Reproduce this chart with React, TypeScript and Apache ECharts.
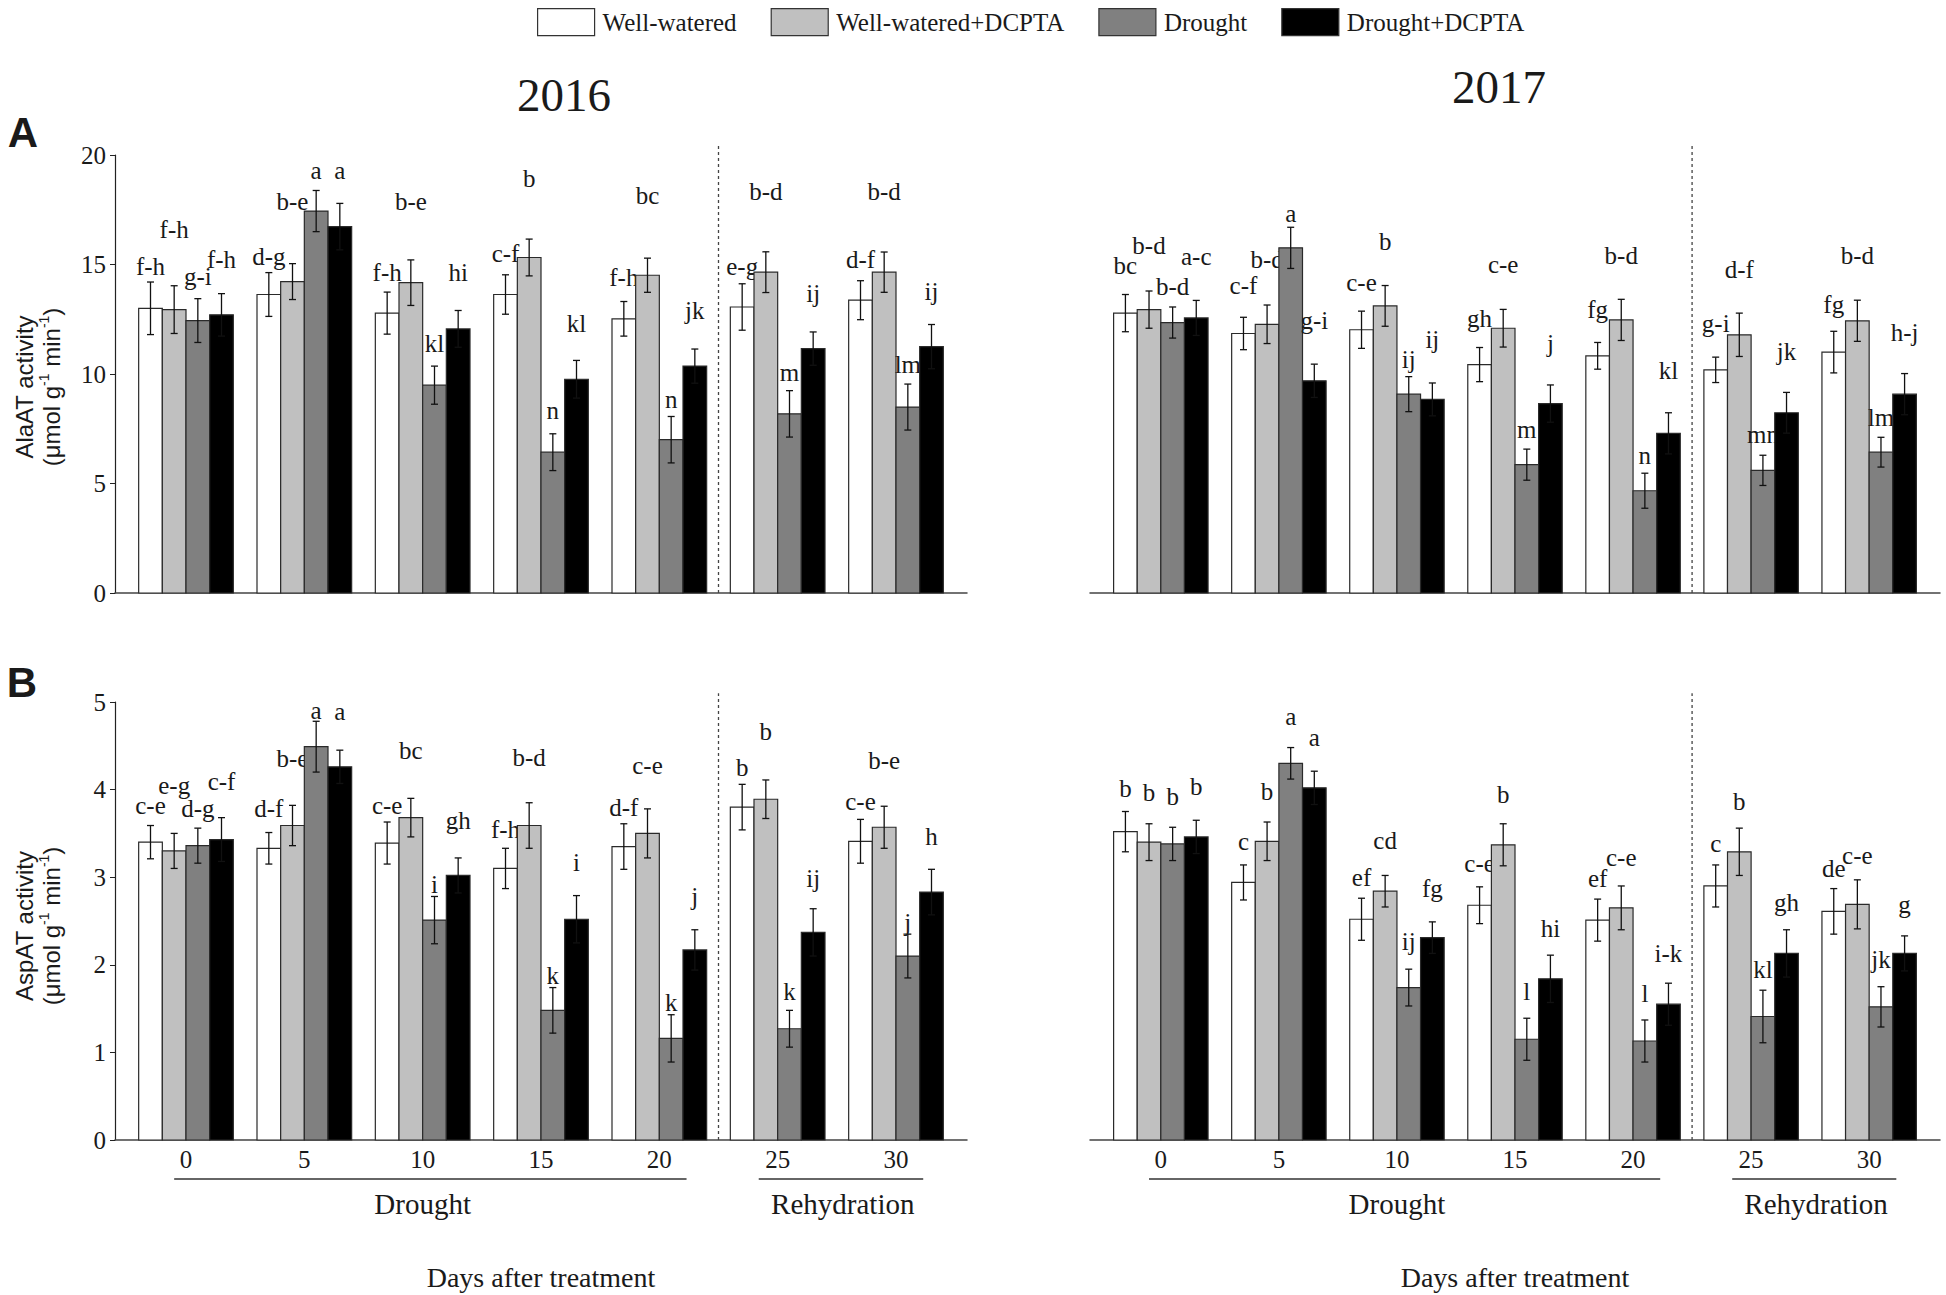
import React, { useEffect, useRef } from 'react';
import * as echarts from 'echarts';

// ---------- data ----------
const days = ['0', '5', '10', '15', '20', '25', '30'];
const dayIndex = [0, 1, 2, 3, 4, 5, 6];
const seriesNames = ['Well-watered', 'Well-watered+DCPTA', 'Drought', 'Drought+DCPTA'];

// AlaAT 2016 (rows: WW, WW+DCPTA, Drought, Drought+DCPTA)
const ala2016Mean = [
  [13.0, 13.63, 12.78, 13.63, 12.52, 13.06, 13.37],
  [12.94, 14.22, 14.17, 15.32, 14.51, 14.65, 14.65],
  [12.44, 17.44, 9.49, 6.43, 7.0, 8.18, 8.49],
  [12.7, 16.73, 12.06, 9.76, 10.36, 11.16, 11.25],
];
const ala2016Err = [
  [1.2, 1.0, 0.96, 0.9, 0.79, 1.06, 0.89],
  [1.09, 0.82, 1.04, 0.84, 0.78, 0.93, 0.92],
  [1.0, 0.94, 0.87, 0.84, 1.06, 1.06, 1.05],
  [0.97, 1.06, 0.84, 0.86, 0.78, 0.76, 1.01],
];
const ala2016Letters = [
  ['f-h', 'd-g', 'f-h', 'c-f', 'f-h', 'e-g', 'd-f'],
  ['f-h', 'b-e', 'b-e', 'b', 'bc', 'b-d', 'b-d'],
  ['g-i', 'a', 'kl', 'n', 'n', 'm', 'lm'],
  ['f-h', 'a', 'hi', 'kl', 'jk', 'ij', 'ij'],
];
const ala2016LetterY = [
  [14.9, 15.36, 14.63, 15.48, 14.4, 14.9, 15.24],
  [16.6, 17.87, 17.87, 18.94, 18.14, 18.33, 18.33],
  [14.45, 19.29, 11.38, 8.33, 8.85, 10.07, 10.42],
  [15.24, 19.29, 14.63, 12.32, 12.91, 13.69, 13.76],
];

// AlaAT 2017
const ala2017Mean = [
  [12.78, 11.85, 12.02, 10.43, 10.83, 10.19, 11.0],
  [12.94, 12.27, 13.11, 12.09, 12.47, 11.79, 12.43],
  [12.35, 15.76, 9.08, 5.86, 4.67, 5.6, 6.43],
  [12.56, 9.69, 8.84, 8.65, 7.29, 8.23, 9.08],
];
const ala2017Err = [
  [0.85, 0.74, 0.85, 0.78, 0.61, 0.58, 0.95],
  [0.85, 0.88, 0.93, 0.86, 0.94, 0.99, 0.94],
  [0.71, 0.94, 0.8, 0.71, 0.8, 0.69, 0.68],
  [0.8, 0.76, 0.75, 0.85, 0.94, 0.93, 0.94],
];
const ala2017Letters = [
  ['bc', 'c-f', 'c-e', 'gh', 'fg', 'g-i', 'fg'],
  ['b-d', 'b-d', 'b', 'c-e', 'b-d', 'd-f', 'b-d'],
  ['b-d', 'a', 'ij', 'm', 'n', 'mn', 'lm'],
  ['a-c', 'g-i', 'ij', 'j', 'kl', 'jk', 'h-j'],
];
const ala2017LetterY = [
  [14.94, 14.02, 14.17, 12.55, 12.93, 12.32, 13.16],
  [15.89, 15.21, 16.05, 14.98, 15.39, 14.75, 15.39],
  [13.99, 17.34, 10.65, 7.45, 6.27, 7.22, 8.03],
  [15.36, 12.44, 11.59, 11.41, 10.16, 11.03, 11.89],
];

// AspAT 2016
const asp2016Mean = [
  [3.4, 3.33, 3.39, 3.1, 3.35, 3.8, 3.41],
  [3.3, 3.59, 3.68, 3.59, 3.5, 3.89, 3.57],
  [3.36, 4.49, 2.51, 1.48, 1.16, 1.27, 2.1],
  [3.43, 4.26, 3.02, 2.52, 2.17, 2.37, 2.83],
];
const asp2016Err = [
  [0.19, 0.18, 0.24, 0.23, 0.26, 0.26, 0.25],
  [0.2, 0.23, 0.22, 0.26, 0.28, 0.22, 0.24],
  [0.2, 0.29, 0.27, 0.26, 0.27, 0.21, 0.25],
  [0.25, 0.19, 0.2, 0.27, 0.23, 0.27, 0.26],
];
const asp2016Letters = [
  ['c-e', 'd-f', 'c-e', 'f-h', 'd-f', 'b', 'c-e'],
  ['e-g', 'b-e', 'bc', 'b-d', 'c-e', 'b', 'b-e'],
  ['d-g', 'a', 'i', 'k', 'k', 'k', 'j'],
  ['c-f', 'a', 'gh', 'i', 'j', 'ij', 'h'],
];
const asp2016LetterY = [
  [3.82, 3.78, 3.82, 3.54, 3.8, 4.25, 3.86],
  [4.05, 4.35, 4.45, 4.37, 4.27, 4.66, 4.33],
  [3.78, 4.9, 2.92, 1.88, 1.57, 1.69, 2.48],
  [4.09, 4.89, 3.65, 3.17, 2.78, 2.98, 3.47],
];

// AspAT 2017
const asp2017Mean = [
  [3.52, 2.94, 2.52, 2.68, 2.51, 2.9, 2.61],
  [3.4, 3.41, 2.84, 3.37, 2.65, 3.29, 2.69],
  [3.38, 4.3, 1.74, 1.15, 1.13, 1.41, 1.52],
  [3.46, 4.02, 2.31, 1.84, 1.55, 2.13, 2.13],
];
const asp2017Err = [
  [0.23, 0.2, 0.24, 0.21, 0.24, 0.24, 0.26],
  [0.21, 0.22, 0.18, 0.24, 0.25, 0.27, 0.28],
  [0.19, 0.18, 0.21, 0.24, 0.24, 0.3, 0.23],
  [0.19, 0.19, 0.18, 0.27, 0.24, 0.27, 0.2],
];
const asp2017Letters = [
  ['b', 'c', 'ef', 'c-e', 'ef', 'c', 'de'],
  ['b', 'b', 'cd', 'b', 'c-e', 'b', 'c-e'],
  ['b', 'a', 'ij', 'l', 'l', 'kl', 'jk'],
  ['b', 'a', 'fg', 'hi', 'i-k', 'gh', 'g'],
];
const asp2017LetterY = [
  [4.01, 3.41, 3.0, 3.16, 2.98, 3.38, 3.1],
  [3.97, 3.98, 3.42, 3.94, 3.22, 3.86, 3.25],
  [3.92, 4.84, 2.27, 1.69, 1.67, 1.95, 2.06],
  [4.04, 4.59, 2.87, 2.41, 2.13, 2.71, 2.69],
];

const yearTitles = ['2016', '2017'];
const yMax = [20, 20, 5, 5];
const yInterval = [5, 5, 1, 1];
const dividerTop = [20.46, 20.46, 5.1, 5.1];

// ---------- style ----------
const SERIF = '"Liberation Serif", "Times New Roman", serif';
const SANS = '"Liberation Sans", Arial, sans-serif';
const COLORS = ['#ffffff', '#c0c0c0', '#808080', '#000000'];
const TXT = '#1a1a1a';

const panels = [
  { mean: ala2016Mean, err: ala2016Err, letters: ala2016Letters, ly: ala2016LetterY },
  { mean: ala2017Mean, err: ala2017Err, letters: ala2017Letters, ly: ala2017LetterY },
  { mean: asp2016Mean, err: asp2016Err, letters: asp2016Letters, ly: asp2016LetterY },
  { mean: asp2017Mean, err: asp2017Err, letters: asp2017Letters, ly: asp2017LetterY },
];

const grids = [
  { left: 115, top: 155, width: 852, height: 438 },
  { left: 1090, top: 155, width: 850, height: 438 },
  { left: 115, top: 702, width: 852, height: 438 },
  { left: 1090, top: 702, width: 850, height: 438 },
];

function makeSeries(p: number) {
  const P = panels[p];
  return seriesNames.map((name, k) => ({
    type: 'custom',
    name,
    xAxisIndex: p,
    yAxisIndex: p,
    clip: false,
    itemStyle: { color: COLORS[k], borderColor: '#333', borderWidth: 1 },
    data: dayIndex.map((d, i) => [d, P.mean[k][i], P.err[k][i]]),
    renderItem: (params: any, api: any) => {
      const i = params.dataIndex;
      const x = api.value(0);
      const v = api.value(1);
      const e = api.value(2);
      const unit = api.size([1, 0])[0];
      const groupW = unit * 0.8;
      const barW = groupW / 4;
      const p0 = api.coord([x, 0]);
      const p1 = api.coord([x, v]);
      const left = p0[0] - groupW / 2 + k * barW;
      const cx = left + barW / 2;
      const eTop = api.coord([x, v + e])[1];
      const eBot = api.coord([x, v - e])[1];
      const ly = api.coord([x, P.ly[k][i]])[1];
      const es = { stroke: '#111', lineWidth: 1.3 };
      return {
        type: 'group',
        children: [
          {
            type: 'rect',
            shape: { x: left, y: p1[1], width: barW, height: p0[1] - p1[1] },
            style: { fill: COLORS[k], stroke: '#2a2a2a', lineWidth: 1.2 },
          },
          { type: 'line', shape: { x1: cx, y1: eTop, x2: cx, y2: eBot }, style: es },
          { type: 'line', shape: { x1: cx - 3.5, y1: eTop, x2: cx + 3.5, y2: eTop }, style: es },
          { type: 'line', shape: { x1: cx - 3.5, y1: eBot, x2: cx + 3.5, y2: eBot }, style: es },
          {
            type: 'text',
            x: cx,
            y: ly,
            style: {
              text: P.letters[k][i],
              font: `25px ${SERIF}`,
              fill: TXT,
              align: 'center',
              verticalAlign: 'middle',
              textAlign: 'center',
              textVerticalAlign: 'middle',
            },
          },
        ],
      };
    },
  }));
}

export default function App() {
  const ref = useRef<HTMLDivElement>(null);
  useEffect(() => {
    if (!ref.current) return;
    const chart = echarts.init(ref.current, null, { renderer: 'svg' });
    const option: any = {
      animation: false,
      backgroundColor: '#ffffff',
      legend: {
        top: 3,
        left: 532,
        itemWidth: 57,
        itemHeight: 27,
        itemGap: 34,
        icon: 'rect',
        selectedMode: false,
        textStyle: { fontFamily: SERIF, fontSize: 25, color: TXT, padding: [0, 0, 0, 3] },
        data: seriesNames.map((n, k) => ({
          name: n,
          itemStyle: { color: COLORS[k], borderColor: '#333', borderWidth: 1.2 },
        })),
      },
      grid: grids,
      xAxis: grids.map((g, i) => ({
        type: 'value',
        gridIndex: i,
        min: -0.6,
        max: 6.6,
        axisLine: { show: true, onZero: false, lineStyle: { color: '#444', width: 1.5 } },
        axisTick: { show: false },
        splitLine: { show: false },
        axisLabel:
          i >= 2
            ? {
                show: true,
                customValues: dayIndex,
                formatter: (v: number) => days[Math.round(v)],
                fontFamily: SERIF,
                fontSize: 25,
                color: TXT,
                margin: 7,
              }
            : { show: false },
      })),
      yAxis: grids.map((g, i) => ({
        type: 'value',
        gridIndex: i,
        min: 0,
        max: yMax[i],
        interval: yInterval[i],
        show: i % 2 === 0,
        axisLine: { show: true, onZero: false, lineStyle: { color: '#222', width: 1.2 } },
        axisTick: { show: true, inside: false, length: 5, lineStyle: { color: '#222' } },
        splitLine: { show: false },
        axisLabel: { fontFamily: SERIF, fontSize: 25, color: TXT, margin: 9 },
      })),
      series: [0, 1, 2, 3].flatMap((p) => makeSeries(p)),
    };
    chart.setOption(option);

    const px = (i: number, x: number, y: number) =>
      chart.convertToPixel({ xAxisIndex: i, yAxisIndex: i } as any, [x, y]) as number[];

    const graphics: any[] = [];
    const txt = (x: number, y: number, text: string, font: string, extra: any = {}) => ({
      type: 'text',
      x,
      y,
      ...extra,
      style: {
        text,
        font,
        fill: TXT,
        align: 'center',
        verticalAlign: 'middle',
        textAlign: 'center',
        textVerticalAlign: 'middle',
        ...(extra.style || {}),
      },
    });

    // dashed dividers between drought and rehydration
    for (let i = 0; i < 4; i++) {
      const a = px(i, 4.5, 0);
      const b = px(i, 4.5, dividerTop[i]);
      graphics.push({
        type: 'line',
        shape: { x1: a[0], y1: a[1], x2: b[0], y2: b[1] },
        style: { stroke: '#444', lineWidth: 1.3, lineDash: [3, 3] },
      });
    }

    // titles
    graphics.push(txt(564, 95, yearTitles[0], `47px ${SERIF}`));
    graphics.push(txt(1499, 87, yearTitles[1], `47px ${SERIF}`));
    graphics.push(txt(23, 132, 'A', `bold 42px ${SANS}`));
    graphics.push(txt(22, 682, 'B', `bold 42px ${SANS}`));

    // y axis names
    const yNames = [
      { first: 'AlaAT activity', cy: 387 },
      { first: 'AspAT activity', cy: 926 },
    ];
    yNames.forEach((n) => {
      graphics.push(txt(24, n.cy, n.first, `24px ${SANS}`, { rotation: Math.PI / 2 }));
      graphics.push({
        type: 'text',
        x: 51,
        y: n.cy,
        rotation: Math.PI / 2,
        style: {
          text: '{a|(μmol g}{s|-1}{a| min}{s|-1}{a|)}',
          align: 'center',
          verticalAlign: 'middle',
          textAlign: 'center',
          textVerticalAlign: 'middle',
          rich: {
            a: { fontFamily: SANS, fontSize: 24, fill: TXT, color: TXT, lineHeight: 28, verticalAlign: 'middle' },
            s: { fontFamily: SANS, fontSize: 14, fill: TXT, color: TXT, lineHeight: 28, verticalAlign: 'top' },
          },
        },
      });
    });

    // phase brackets and x titles under bottom panels
    [2, 3].forEach((i) => {
      const base = px(i, 0, 0)[1];
      const lineY = base + 39;
      const d0 = px(i, -0.1, 0)[0];
      const d1 = px(i, 4.23, 0)[0];
      const r0 = px(i, 4.84, 0)[0];
      const r1 = px(i, 6.23, 0)[0];
      const ls = { stroke: '#333', lineWidth: 1.3 };
      graphics.push({ type: 'line', shape: { x1: d0, y1: lineY, x2: d1, y2: lineY }, style: ls });
      graphics.push({ type: 'line', shape: { x1: r0, y1: lineY, x2: r1, y2: lineY }, style: ls });
      graphics.push(txt(px(i, 2.0, 0)[0], base + 64, 'Drought', `29px ${SERIF}`));
      graphics.push(txt(px(i, 5.55, 0)[0], base + 64, 'Rehydration', `29px ${SERIF}`));
      graphics.push(txt(px(i, 3.0, 0)[0], base + 137, 'Days after treatment', `28px ${SERIF}`));
    });

    chart.setOption({ graphic: graphics });
    return () => chart.dispose();
  }, []);
  return (
    <div
      ref={ref}
      style={{ position: 'absolute', left: 0, top: 0, width: 1946, height: 1295, background: '#fff' }}
    />
  );
}
